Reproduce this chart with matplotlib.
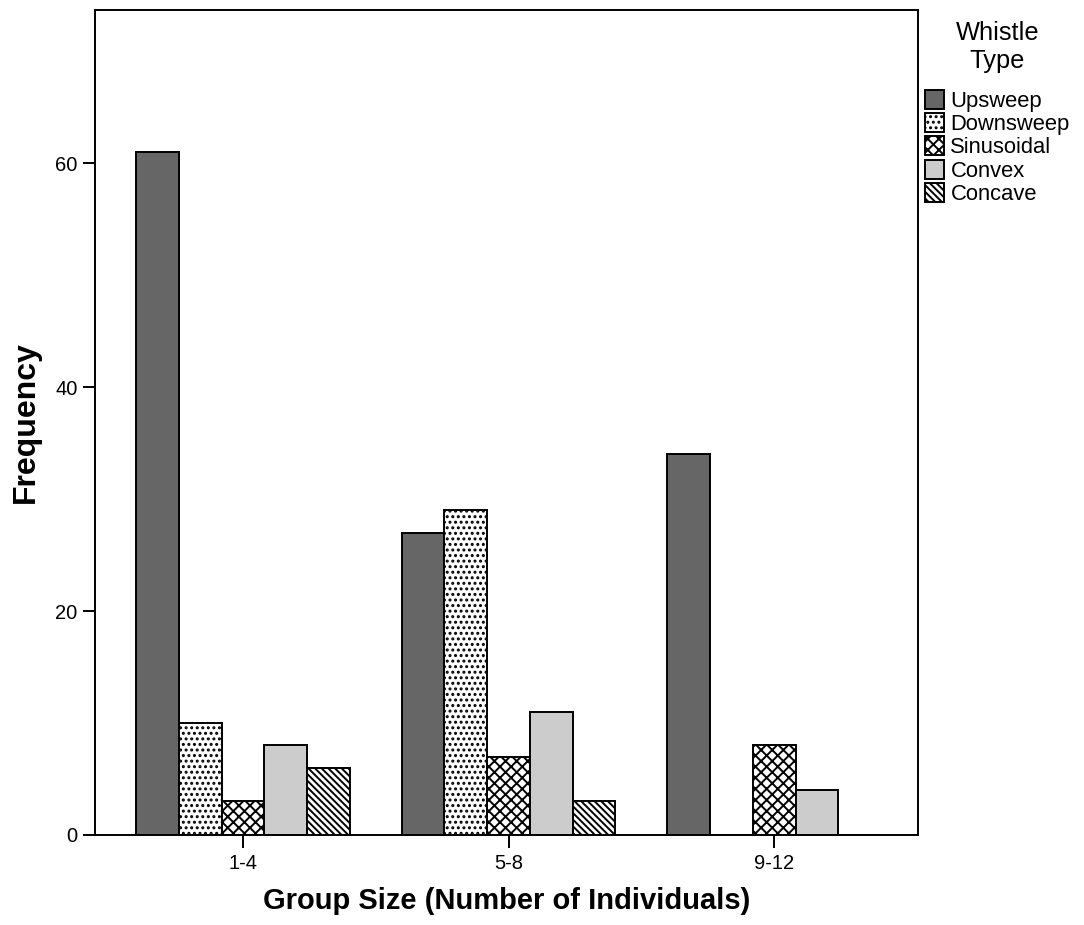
import numpy as np
import matplotlib.pyplot as plt
from matplotlib.patches import Patch

plt.rcParams['font.family'] = ['Liberation Sans', 'DejaVu Sans']
plt.rcParams['hatch.linewidth'] = 1.4

# Dane
groups = ["1-4", "5-8", "9-12"]
whistle_types = ["Upsweep", "Downsweep", "Sinusoidal", "Convex", "Concave"]
upsweep = [61, 27, 34]
downsweep = [10, 29, 0]
sinusoidal = [3, 7, 8]
convex = [8, 11, 4]
concave = [6, 3, 0]
series = [upsweep, downsweep, sinusoidal, convex, concave]

# Styl słupków
colors = ["#666666", "white", "white", "#cccccc", "white"]
hatches = ["", "...", "xxx", "", "\\\\\\\\\\"]

fig = plt.figure(figsize=(10.84, 9.25), dpi=100)
ax = fig.add_axes([0.0876, 0.0973, 0.7594, 0.8919])

x = np.arange(len(groups))
width = 0.161
for k, values in enumerate(series):
    ax.bar(x + (k - 2) * width, values, width, color=colors[k], hatch=hatches[k],
           edgecolor="black", linewidth=1.4, label=whistle_types[k], zorder=2)

ax.set_xlim(-0.557, 2.542)
ax.set_ylim(0, 73.7)
ax.set_xticks(x)
ax.set_xticklabels(groups)
ax.set_yticks([0, 20, 40, 60])
ax.tick_params(axis="both", labelsize=14.5, width=1.4, length=9, direction="out")
ax.tick_params(axis="x", pad=5)
for s in ax.spines.values():
    s.set_linewidth(1.4)

ax.set_xlabel("Group Size (Number of Individuals)", fontsize=21, fontweight="bold", labelpad=10)
ax.set_ylabel("Frequency", fontsize=23, fontweight="bold", labelpad=10)

handles = [Patch(facecolor=colors[k], hatch=hatches[k], edgecolor="black", linewidth=1.4)
           for k in range(len(whistle_types))]
leg = fig.legend(handles, whistle_types, loc="upper left", bbox_to_anchor=(0.8533, 0.977),
                 frameon=False, fontsize=15.8, title="Whistle\nType", title_fontsize=18.3,
                 handlelength=0.88, handleheight=0.95, handletextpad=0.28,
                 labelspacing=0.06, borderpad=0, borderaxespad=0, alignment="center")
leg.get_title().set_multialignment("center")
leg._legend_box.sep = 12

fig.savefig("out.png", dpi=100)
